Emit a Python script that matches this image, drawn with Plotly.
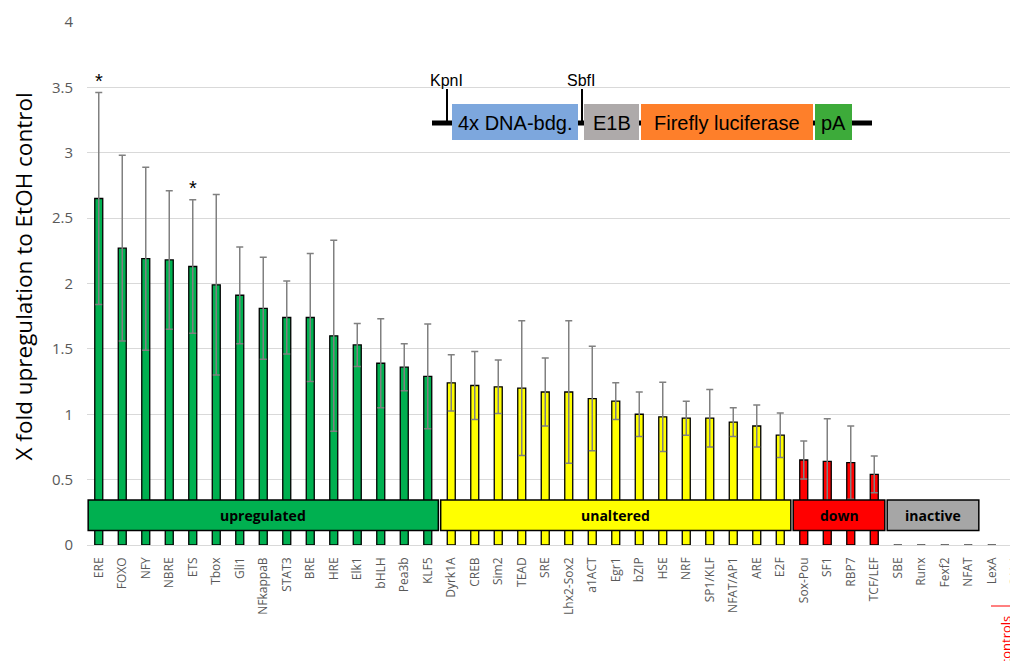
import plotly.graph_objects as go

# ---------------- data ----------------
categories = ["ERE", "FOXO", "NFY", "NBRE", "ETS", "Tbox", "Gli1", "NFkappaB", "STAT3", "BRE",
              "HRE", "Elk1", "bHLH", "Pea3b", "KLF5",
              "Dyrk1A", "CREB", "Sim2", "TEAD", "SRE", "Lhx2-Sox2", "a1ACT", "Egr1", "bZIP", "HSE",
              "NRF", "SP1/KLF", "NFAT/AP1", "ARE", "E2F",
              "Sox-Pou", "SF1", "RBP7", "TCF/LEF",
              "SBE", "Runx", "Fexf2", "NFAT", "LexA", "GAL4"]
values = [2.65, 2.27, 2.19, 2.18, 2.13, 1.99, 1.91, 1.81, 1.74, 1.74,
          1.60, 1.53, 1.39, 1.36, 1.29,
          1.24, 1.22, 1.21, 1.20, 1.17, 1.17, 1.12, 1.10, 1.00, 0.98,
          0.97, 0.97, 0.94, 0.91, 0.84,
          0.65, 0.64, 0.63, 0.54,
          0, 0, 0, 0, 0, 0]
errors = [0.81, 0.71, 0.70, 0.53, 0.51, 0.69, 0.37, 0.39, 0.28, 0.49,
          0.73, 0.165, 0.34, 0.18, 0.40,
          0.215, 0.26, 0.205, 0.515, 0.26, 0.545, 0.40, 0.14, 0.17, 0.265,
          0.13, 0.22, 0.11, 0.16, 0.17,
          0.145, 0.325, 0.28, 0.14,
          0, 0, 0, 0, 0, 0]
group_names = ["upregulated", "unaltered", "down", "inactive"]
group_sizes = [15, 15, 4, 4]
group_colors = ["#00B050", "#FFFF00", "#FF0000", "#A6A6A6"]
significant = ["ERE", "ETS"]
construct_parts = ["4x DNA-bdg.", "E1B", "Firefly luciferase", "pA"]
construct_colors = ["#7DA7DD", "#AEAAAA", "#FE7F2A", "#3DAB3A"]
sites = ["KpnI", "SbfI"]
controls_label = "controls"
y_title = "X fold upregulation to EtOH control"

# ---------------- layout geometry (page pixels) ----------------
OFF = 8                      # default page body margin
PAGE_W, PAGE_H = 1018, 661
W, H = PAGE_W - OFF, PAGE_H - OFF
P_LEFT, P_TOP, P_BOTTOM, P_RIGHT = 87, 22, 545, 1018
ML, MT, MB, MR = P_LEFT - OFF, P_TOP - OFF, PAGE_H - P_BOTTOM, PAGE_W - P_RIGHT
PW, PH = P_RIGHT - P_LEFT, P_BOTTOM - P_TOP
CAT_PX = 23.5


def xp(px):
    return (px - P_LEFT) / PW


def yp(py):
    return (P_BOTTOM - py) / PH


# bar colours by group
bar_colors = []
for name, size, col in zip(group_names, group_sizes, group_colors):
    bar_colors += [col] * size
bar_colors += ["#FFFFFF"] * (len(categories) - len(bar_colors))

fig = go.Figure()
fig.add_trace(go.Bar(
    x=list(range(len(categories))), y=values,
    width=0.34,
    marker=dict(color=bar_colors, line=dict(color="#000000", width=1.3)),
    error_y=dict(type="data", array=errors, symmetric=True, color="#808080",
                 thickness=1.5, width=3.5),
    hoverinfo="skip",
))

shapes = []
annotations = []

# group boxes
start = 0
for name, size, col in zip(group_names, group_sizes, group_colors):
    x0 = start - 0.5 + 0.05
    x1 = start + size - 0.5 - 0.05
    shapes.append(dict(type="rect", xref="x", yref="y", x0=x0, x1=x1, y0=0.11, y1=0.345,
                       fillcolor=col, line=dict(color="#000000", width=1.5), layer="above"))
    annotations.append(dict(x=(x0 + x1) / 2, y=0.2275, xref="x", yref="y", text="<b>%s</b>" % name,
                            showarrow=False, xanchor="center", yanchor="middle",
                            font=dict(family="Open Sans", size=14, color="#000000")))
    start += size

# significance stars
for cat in significant:
    i = categories.index(cat)
    annotations.append(dict(x=i, y=values[i] + errors[i], xref="x", yref="y", text="*",
                            showarrow=False, xanchor="center", yanchor="bottom", yshift=-1,
                            font=dict(family="Liberation Sans", size=20, color="#000000")))

# construct diagram (pixel positions -> paper)
line_y = 123
shapes.append(dict(type="line", xref="paper", yref="paper", x0=xp(432), x1=xp(872),
                   y0=yp(line_y), y1=yp(line_y), line=dict(color="#000000", width=5)))
part_px = [(452, 578), (584, 639), (641, 813), (815, 852)]
for (a, b), txt, col in zip(part_px, construct_parts, construct_colors):
    shapes.append(dict(type="rect", xref="paper", yref="paper", x0=xp(a), x1=xp(b),
                       y0=yp(140), y1=yp(104), fillcolor=col, line=dict(width=0)))
    annotations.append(dict(x=xp((a + b) / 2), y=yp(123), xref="paper", yref="paper", text=txt,
                            showarrow=False, xanchor="center", yanchor="middle",
                            font=dict(family="Liberation Sans", size=20, color="#000000")))
site_px = [447, 582]
for sx, txt in zip(site_px, sites):
    shapes.append(dict(type="line", xref="paper", yref="paper", x0=xp(sx), x1=xp(sx),
                       y0=yp(89), y1=yp(line_y), line=dict(color="#000000", width=2)))
    annotations.append(dict(x=xp(sx - 1), y=yp(80), xref="paper", yref="paper", text=txt,
                            showarrow=False, xanchor="center", yanchor="middle",
                            font=dict(family="Liberation Sans", size=16, color="#000000")))

# controls bracket
shapes.append(dict(type="line", xref="paper", yref="paper", x0=xp(991), x1=xp(1020),
                   y0=yp(606), y1=yp(606), line=dict(color="#FF0000", width=1)))
annotations.append(dict(x=xp(1006), y=yp(641), xref="paper", yref="paper", text=controls_label,
                        textangle=-90, showarrow=False, yanchor="middle", xanchor="center",
                        font=dict(family="Open Sans", size=13, color="#FF0000")))

# y-axis title
annotations.append(dict(x=xp(22.5), y=yp(277), xref="paper", yref="paper", text=y_title,
                        textangle=-90, showarrow=False, xanchor="center", yanchor="middle",
                        font=dict(family="Open Sans", size=22.5, color="#000000")))

fig.update_layout(
    width=W, height=H,
    margin=dict(l=ML, r=MR, t=MT, b=MB, pad=0, autoexpand=False),
    paper_bgcolor="#FFFFFF", plot_bgcolor="#FFFFFF",
    showlegend=False,
    shapes=shapes, annotations=annotations,
    xaxis=dict(range=[-0.5, -0.5 + PW / CAT_PX], tickmode="array",
               tickvals=list(range(len(categories))), ticktext=categories,
               tickangle=-90, tickfont=dict(family="Open Sans", size=12, color="#595959"),
               ticklabeloverflow="allow", automargin=False,
               showgrid=False, zeroline=False, showline=False, ticks="", ticklabelstandoff=9),
    yaxis=dict(range=[0, 4], dtick=0.5, tick0=0, showgrid=True, gridcolor="#D9D9D9", gridwidth=1,
               zeroline=True, zerolinecolor="#D9D9D9", zerolinewidth=1, showline=False, ticks="",
               automargin=False,
               tickfont=dict(family="Open Sans", size=15, color="#595959"), ticklabelstandoff=13),
)

fig.write_html("out.html")
